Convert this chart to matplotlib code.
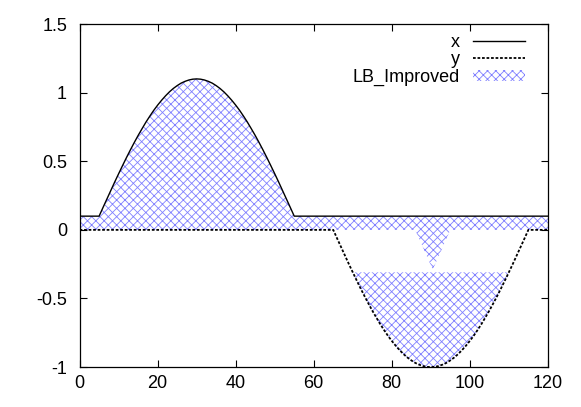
import numpy as np
import matplotlib
matplotlib.use("Agg")
import matplotlib.pyplot as plt

plt.rcParams['font.family'] = ['Liberation Sans', 'DejaVu Sans']
plt.rcParams['axes.unicode_minus'] = False
plt.rcParams['hatch.linewidth'] = 0.6

# series x: flat 0.1, hump between 5 and 55
x_t = [0] + list(range(5, 56)) + [120]
x_vals = [0.1,
          0.100, 0.163, 0.225, 0.287, 0.349, 0.409, 0.468, 0.526, 0.582, 0.636,
          0.688, 0.737, 0.785, 0.829, 0.871, 0.909, 0.944, 0.976, 1.005, 1.030,
          1.051, 1.069, 1.082, 1.092, 1.098, 1.100, 1.098, 1.092, 1.082, 1.069,
          1.051, 1.030, 1.005, 0.976, 0.944, 0.909, 0.871, 0.829, 0.785, 0.737,
          0.688, 0.636, 0.582, 0.526, 0.468, 0.409, 0.349, 0.287, 0.225, 0.163,
          0.100,
          0.1]

# series y: flat 0, dip between 65 and 115
y_t = [0] + list(range(65, 116)) + [120]
y_vals = [0.0,
          0.000, -0.063, -0.125, -0.187, -0.249, -0.309, -0.368, -0.426, -0.482, -0.536,
          -0.588, -0.637, -0.685, -0.729, -0.771, -0.809, -0.844, -0.876, -0.905, -0.930,
          -0.951, -0.969, -0.982, -0.992, -0.998, -1.000, -0.998, -0.992, -0.982, -0.969,
          -0.951, -0.930, -0.905, -0.876, -0.844, -0.809, -0.771, -0.729, -0.685, -0.637,
          -0.588, -0.536, -0.482, -0.426, -0.368, -0.309, -0.249, -0.187, -0.125, -0.063,
          0.000,
          0.0]

# LB_Improved region: upper band between x and lb_top, lower part between y and its cut level
lb_top_t = [0, 86, 90.5, 95, 120]
lb_top_vals = [0.0, 0.0, -0.29, 0.0, 0.0]
lb_low_t = y_t[6:47]      # t = 70 .. 110
lb_low_vals = y_vals[6:47]

fig = plt.figure(figsize=(5.81, 4.07), dpi=100)
ax = fig.add_axes([0.137, 0.098, 0.806, 0.843])

hatch_col = '#8080ff'
ax.fill(np.concatenate([x_t, lb_top_t[::-1]]), np.concatenate([x_vals, lb_top_vals[::-1]]),
        facecolor='none', edgecolor=hatch_col, hatch='xxxx', lw=0, label='LB_Improved')
ax.fill(lb_low_t, lb_low_vals, facecolor='none', edgecolor=hatch_col, hatch='xxxx', lw=0)

ax.plot(x_t, x_vals, color='black', lw=1.0, label='x')
ax.plot(y_t, y_vals, color='black', lw=1.3, linestyle=(0, (1.5, 1)), label='y')

ax.set_xlim(0, 120)
ax.set_ylim(-1, 1.5)
ax.set_xticks([0, 20, 40, 60, 80, 100, 120])
ax.set_yticks([-1, -0.5, 0, 0.5, 1, 1.5])
ax.set_yticklabels(['-1', '-0.5', '0', '0.5', '1', '1.5'])
ax.tick_params(direction='in', length=5, width=0.8, top=True, right=True, labelsize=13)
ax.tick_params(axis='x', pad=6)
ax.tick_params(axis='y', pad=9)
for s in ax.spines.values():
    s.set_linewidth(0.9)

handles, labels = ax.get_legend_handles_labels()
order = [labels.index('x'), labels.index('y'), labels.index('LB_Improved')]
ax.legend([handles[i] for i in order], [labels[i] for i in order],
          loc='upper right', frameon=False, markerfirst=False, fontsize=13,
          handlelength=2.9, handleheight=0.6, labelspacing=0.02, handletextpad=0.7,
          borderpad=0, borderaxespad=0, bbox_to_anchor=(0.951, 0.971))

fig.savefig('out.png', dpi=100)
